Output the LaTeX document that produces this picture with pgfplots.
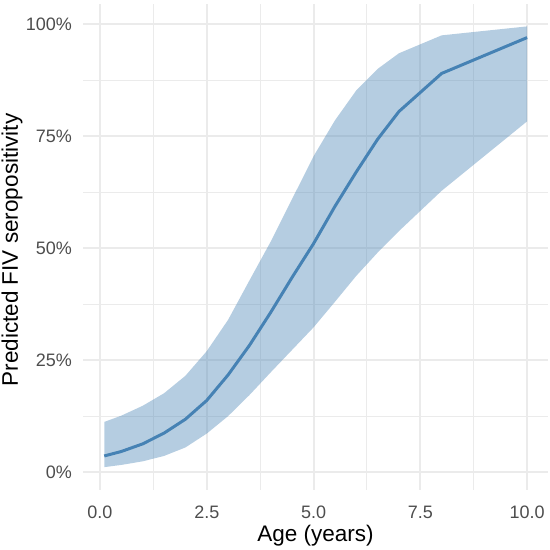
\documentclass[border=0pt]{standalone}
\usepackage{fontspec}
\setmainfont{Liberation Sans}
\usepackage{pgfplots}
\usepackage{pgfplotstable}
\pgfplotsset{compat=1.18}
\usepgfplotslibrary{fillbetween}
\definecolor{steel}{HTML}{4682B4}
\definecolor{gridc}{HTML}{EBEBEB}
\definecolor{ticklab}{HTML}{4D4D4D}
\pgfplotstableread{
age mid lo hi
0.1 3.6 1.1 11.2
0.5 4.6 1.6 12.6
1.0 6.3 2.4 14.8
1.5 8.7 3.6 17.6
2.0 11.8 5.5 21.5
2.5 16.0 8.6 27.0
3.0 21.7 12.5 34.0
3.5 28.3 17.2 42.8
4.0 35.7 22.3 51.5
4.5 43.5 27.3 61.0
5.0 51.0 32.3 70.5
5.5 59.3 38.0 78.5
6.0 67.0 43.8 85.2
6.5 74.3 49.0 90.0
7.0 80.5 53.8 93.5
8.0 89.0 62.8 97.5
10.0 97.0 78.3 99.5
}\datatable
\begin{document}
\begin{tikzpicture}
\begin{axis}[
  at={(83bp,60bp)}, anchor=south west,
  scale only axis, width=465bp, height=486bp,
  xmin=-0.398, xmax=10.49, ymin=-4.0, ymax=104.5,
  axis line style={draw=none},
  major tick length=0pt, minor tick length=0pt,
  xtick={0,2.5,5,7.5,10},
  xticklabels={0.0,2.5,5.0,7.5,10.0},
  ytick={0,25,50,75,100},
  yticklabels={0\%,25\%,50\%,75\%,100\%},
  minor xtick={1.25,3.75,6.25,8.75},
  minor ytick={12.5,37.5,62.5,87.5},
  grid=both,
  major grid style={draw=gridc, line width=2bp},
  minor grid style={draw=gridc, line width=1bp},
  ticklabel style={font=\fontsize{18bp}{20bp}\selectfont, text=ticklab, inner sep=0pt},
  yticklabel style={anchor=east, xshift=-11bp},
  xticklabel style={anchor=base, yshift=-28bp},
  xlabel={Age (years)},
  ylabel={Predicted FIV seropositivity},
  xlabel style={at={(axis description cs:0.5,0)}, anchor=base, yshift=-51.7bp, font=\fontsize{22.5bp}{25bp}\selectfont, inner sep=0pt},
  ylabel style={at={(axis description cs:-0.1398,0.4938)}, anchor=base, font=\fontsize{22.5bp}{25bp}\selectfont, inner sep=0pt},
  clip=false,
]
\addplot[draw=none, name path=hi, forget plot] table[x=age, y=hi]{\datatable};
\addplot[draw=none, name path=lo, forget plot] table[x=age, y=lo]{\datatable};
\addplot[fill=steel, fill opacity=0.4, draw=none] fill between[of=hi and lo];
\addplot[steel, line width=3bp, line join=round] table[x=age, y=mid]{\datatable};
\end{axis}
\pgfresetboundingbox
\path[use as bounding box] (0,0) rectangle (550bp,550bp);
\end{tikzpicture}
\end{document}
